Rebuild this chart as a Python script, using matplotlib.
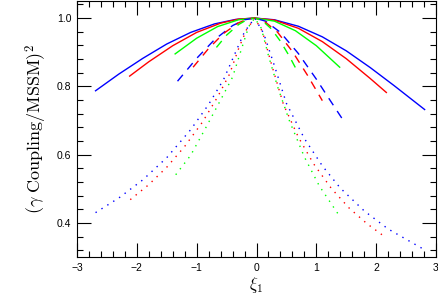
import matplotlib
matplotlib.use("Agg")
import matplotlib.pyplot as plt
from matplotlib.ticker import MultipleLocator

plt.rcParams["mathtext.fontset"] = "cm"
plt.rcParams["font.family"] = ["Liberation Sans", "DejaVu Sans"]

# solid curves
solid_blue_x = [-2.69, -2.3, -1.9, -1.5, -1.1, -0.7, -0.35, -0.03, 0.3, 0.7, 1.1, 1.5, 1.9, 2.3, 2.81]
solid_blue_y = [0.787, 0.836, 0.882, 0.924, 0.958, 0.983, 0.996, 1.0, 0.995, 0.976, 0.945, 0.904, 0.855, 0.802, 0.732]
solid_red_x = [-2.12, -1.8, -1.4, -1.0, -0.6, -0.3, -0.03, 0.3, 0.7, 1.1, 1.5, 1.9, 2.17]
solid_red_y = [0.830, 0.872, 0.919, 0.958, 0.985, 0.997, 1.0, 0.994, 0.970, 0.931, 0.881, 0.823, 0.782]
solid_green_x = [-1.36, -1.0, -0.65, -0.3, -0.03, 0.3, 0.65, 1.0, 1.39]
solid_green_y = [0.895, 0.941, 0.975, 0.995, 1.0, 0.991, 0.963, 0.919, 0.856]

# dashed curves
dash_blue_x = [-1.32, -1.0, -0.7, -0.4, -0.2, -0.03, 0.15, 0.4, 0.7, 1.0, 1.2, 1.44]
dash_blue_y = [0.815, 0.882, 0.937, 0.978, 0.995, 1.0, 0.991, 0.958, 0.896, 0.821, 0.767, 0.703]
dash_red_x = [-1.06, -0.8, -0.55, -0.3, -0.15, -0.03, 0.12, 0.35, 0.6, 0.85, 1.10]
dash_red_y = [0.856, 0.911, 0.955, 0.986, 0.997, 1.0, 0.992, 0.959, 0.902, 0.833, 0.758]
dash_green_x = [-0.67, -0.5, -0.3, -0.15, -0.03, 0.1, 0.25, 0.4, 0.55, 0.70]
dash_green_y = [0.914, 0.950, 0.981, 0.996, 1.0, 0.992, 0.968, 0.932, 0.888, 0.838]

# dotted curves
dot_blue_x = [-2.69, -2.3, -1.9, -1.5, -1.1, -0.8, -0.55, -0.35, -0.2, -0.03,
              0.12, 0.3, 0.5, 0.8, 1.1, 1.4, 1.8, 2.2, 2.76]
dot_blue_y = [0.430, 0.473, 0.526, 0.591, 0.673, 0.747, 0.820, 0.900, 0.960, 1.0,
              0.955, 0.860, 0.750, 0.647, 0.567, 0.502, 0.435, 0.382, 0.326]
dot_red_x = [-2.11, -1.8, -1.5, -1.2, -0.9, -0.65, -0.45, -0.3, -0.17, -0.03,
             0.1, 0.25, 0.45, 0.7, 0.95, 1.25, 1.55, 1.85, 2.13]
dot_red_y = [0.468, 0.512, 0.563, 0.624, 0.696, 0.769, 0.836, 0.910, 0.965, 1.0,
             0.960, 0.865, 0.747, 0.651, 0.574, 0.501, 0.443, 0.397, 0.361]
dot_green_x = [-1.35, -1.1, -0.85, -0.6, -0.4, -0.25, -0.13, -0.03,
               0.08, 0.2, 0.35, 0.55, 0.8, 1.05, 1.36]
dot_green_y = [0.541, 0.598, 0.678, 0.760, 0.827, 0.910, 0.975, 1.0,
               0.970, 0.890, 0.800, 0.699, 0.593, 0.508, 0.427]

blue = "#0000ff"
red = "#ff0000"
green = "#00ff00"

fig = plt.figure(figsize=(4.39, 2.94), dpi=100)
ax = fig.add_axes([0.1754, 0.1259, 0.8178, 0.8707])

lw = 1.0
ax.plot(solid_blue_x, solid_blue_y, color=blue, lw=lw)
ax.plot(solid_red_x, solid_red_y, color=red, lw=lw)
ax.plot(solid_green_x, solid_green_y, color=green, lw=lw)

dash = (0, (6, 5))
ax.plot(dash_blue_x, dash_blue_y, color=blue, lw=lw, linestyle=dash)
ax.plot(dash_red_x, dash_red_y, color=red, lw=lw, linestyle=dash)
ax.plot(dash_green_x, dash_green_y, color=green, lw=lw, linestyle=dash)

dot = (0, (1, 4))
ax.plot(dot_blue_x, dot_blue_y, color=blue, lw=lw, linestyle=dot)
ax.plot(dot_red_x, dot_red_y, color=red, lw=lw, linestyle=dot)
ax.plot(dot_green_x, dot_green_y, color=green, lw=lw, linestyle=dot)

ax.set_xlim(-3, 3)
ax.set_ylim(0.3, 1.05)
ax.xaxis.set_major_locator(MultipleLocator(1))
ax.xaxis.set_minor_locator(MultipleLocator(0.2))
ax.set_yticks([0.4, 0.6, 0.8, 1.0])
ax.set_yticklabels(["0.4", "0.6", "0.8", "1.0"])
ax.yaxis.set_minor_locator(MultipleLocator(0.04))

ax.tick_params(which="both", direction="in", top=True, right=True, labelsize=7.5, colors="black")
ax.tick_params(which="major", length=10, width=0.8, pad=4)
ax.tick_params(which="minor", length=4.5, width=0.8)
for s in ax.spines.values():
    s.set_linewidth(0.8)

ax.set_ylabel(r"$(\gamma\ \mathrm{Coupling/MSSM})^2$", fontsize=13, labelpad=6)
ax.set_xlabel(r"$\xi_1$", fontsize=12, labelpad=2)

fig.savefig("out.png", dpi=100)
